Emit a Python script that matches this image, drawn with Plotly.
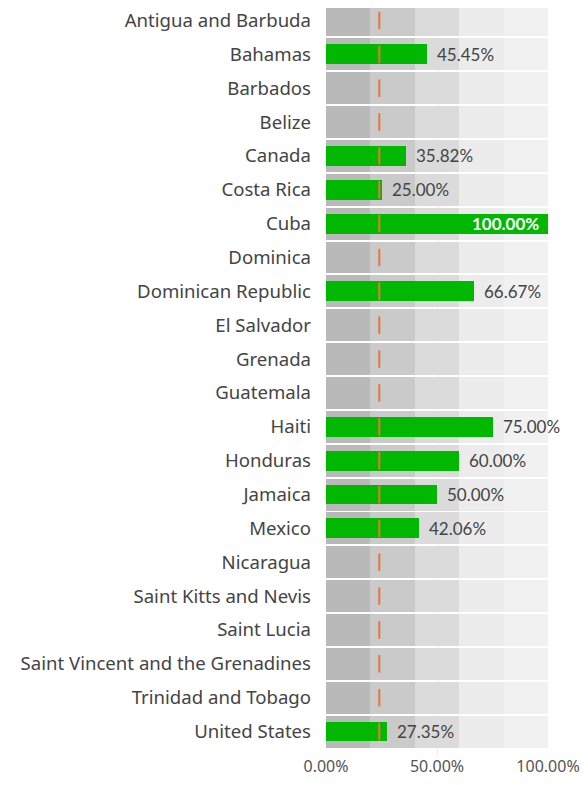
import plotly.graph_objects as go

# --- data ---
countries = ["Antigua and Barbuda", "Bahamas", "Barbados", "Belize", "Canada", "Costa Rica",
             "Cuba", "Dominica", "Dominican Republic", "El Salvador", "Grenada", "Guatemala",
             "Haiti", "Honduras", "Jamaica", "Mexico", "Nicaragua", "Saint Kitts and Nevis",
             "Saint Lucia", "Saint Vincent and the Grenadines", "Trinidad and Tobago", "United States"]
values = [None, 45.45, None, None, 35.82, 25.00, 100.00, None, 66.67, None, None, None,
          75.00, 60.00, 50.00, 42.06, None, None, None, None, None, 27.35]
target = 24.0
band_edges = [0, 20, 40, 60, 80, 100]
band_colors = ["#b9b9b9", "#cacaca", "#dbdbdb", "#ececec", "#f1f1f1"]
tick_vals = [0, 50, 100]
tick_text = ["0.00%", "50.00%", "100.00%"]

ypos = list(range(len(countries)))
fig = go.Figure()

# background bands (bullet ranges)
for lo, hi, c in zip(band_edges[:-1], band_edges[1:], band_colors):
    fig.add_trace(go.Bar(y=ypos, x=[hi - lo] * len(ypos), base=[lo] * len(ypos), orientation='h',
                         width=0.945, marker=dict(color=c, line_width=0), hoverinfo='skip',
                         showlegend=False))

# actual values
fig.add_trace(go.Bar(y=ypos, x=values, orientation='h', width=0.59,
                     marker=dict(color="#00b800", line_width=0), hoverinfo='skip',
                     showlegend=False))

# data labels: outside the bar end, inside (white) when the bar is full
for y, v in zip(ypos, values):
    if v is None:
        continue
    inside = v >= 90
    fig.add_annotation(x=v, y=y, text=f"{v:.2f}%", showarrow=False,
                       xanchor='right' if inside else 'left', xshift=-7 if inside else 8,
                       font=dict(family='Lato', size=17, color='white' if inside else '#444444',
                                 weight='bold' if inside else 'normal'))

# target markers
fig.add_trace(go.Scatter(y=ypos, x=[target] * len(ypos), mode='markers',
                         marker=dict(symbol='line-ns', size=12.5, line=dict(color='#e8753a', width=2)),
                         hoverinfo='skip', showlegend=False))

fig.update_layout(width=572, height=769, barmode='overlay', bargap=0,
                  margin=dict(l=318, r=32, t=0, b=22),
                  plot_bgcolor='white', paper_bgcolor='white',
                  font=dict(family='Noto Sans', color='#444444'))
fig.update_yaxes(tickvals=ypos, ticktext=countries, range=[21.694, -0.369], automargin=False,
                 showgrid=False, zeroline=False, ticks='', ticklabelstandoff=14,
                 ticklabeloverflow='allow',
                 tickfont=dict(size=18.6, color='#444444', family='Noto Sans'))
fig.update_xaxes(range=[0, 100], tickvals=tick_vals, ticktext=tick_text, automargin=False,
                 showgrid=True, gridcolor='#eeeeee', zeroline=False, ticklabelstandoff=0,
                 ticklabeloverflow='allow',
                 tickfont=dict(size=16, color='#555555', family='Noto Sans'))

fig.write_html("out.html")
